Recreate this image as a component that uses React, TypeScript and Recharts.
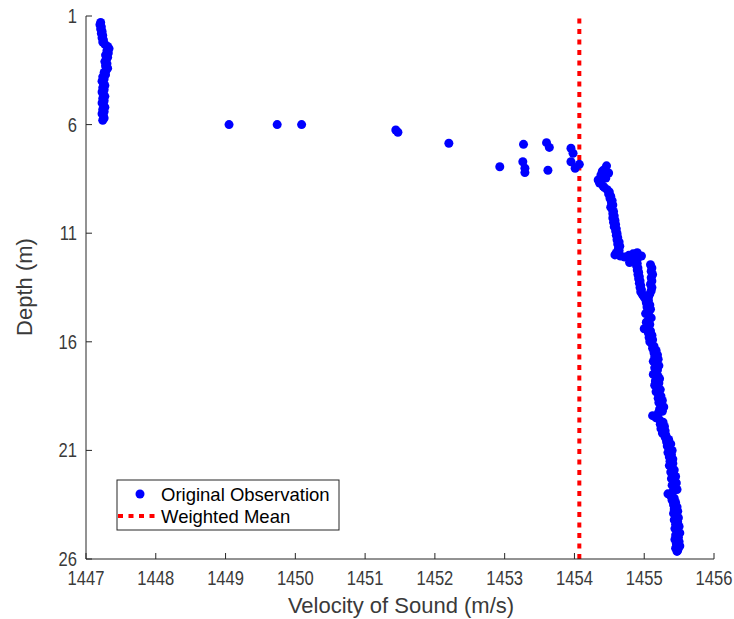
import React from 'react';
import { ScatterChart, Scatter, XAxis, YAxis, ReferenceLine } from 'recharts';

const FONT = '"Liberation Sans", Arial, Helvetica, sans-serif';
const AXIS = '#262626';
const TEXT = '#3a3a3a';

const xTicks = [1447, 1448, 1449, 1450, 1451, 1452, 1453, 1454, 1455, 1456];
const yTicks = [1, 6, 11, 16, 21, 26];
const xLabel = 'Velocity of Sound (m/s)';
const yLabel = 'Depth (m)';
const legendLabels = ['Original Observation', 'Weighted Mean'];

const weightedMean = 1454.07;

// surface layer (m, m/s)
const upperDepth = [1.3, 1.4, 1.5, 1.6, 1.7, 1.8, 1.9, 2.0, 2.1, 2.2, 2.3, 2.4, 2.5, 2.6, 2.7, 2.8, 2.9, 3.0, 3.1, 3.2, 3.3, 3.4, 3.5, 3.6, 3.7, 3.8, 3.9, 4.0, 4.1, 4.2, 4.3, 4.4, 4.5, 4.6, 4.7, 4.8, 4.9, 5.0, 5.1, 5.2, 5.3, 5.4, 5.5, 5.6, 5.7, 5.8];
const upperVelocity = [1447.21, 1447.2, 1447.22, 1447.21, 1447.23, 1447.22, 1447.24, 1447.23, 1447.25, 1447.24, 1447.27, 1447.31, 1447.33, 1447.3, 1447.32, 1447.28, 1447.31, 1447.29, 1447.27, 1447.3, 1447.28, 1447.31, 1447.29, 1447.26, 1447.28, 1447.24, 1447.26, 1447.23, 1447.25, 1447.27, 1447.24, 1447.26, 1447.23, 1447.25, 1447.27, 1447.24, 1447.26, 1447.23, 1447.25, 1447.27, 1447.24, 1447.26, 1447.23, 1447.25, 1447.26, 1447.24];

// scattered transition points
const transitionDepth = [6.0, 6.0, 6.0, 6.25, 6.35, 6.86, 6.91, 6.83, 7.05, 7.09, 7.32, 7.94, 7.71, 8.01, 8.21, 8.1, 7.71, 8.01, 7.83];
const transitionVelocity = [1449.05, 1449.74, 1450.09, 1451.44, 1451.47, 1452.2, 1453.27, 1453.6, 1453.64, 1453.95, 1453.98, 1452.93, 1453.26, 1453.29, 1453.29, 1453.62, 1453.95, 1454.01, 1454.07];

// thermocline and deeper layer
const lowerDepth = [
  7.9, 8.09, 8.32, 8.55, 8.69, 8.83, 8.46, 8.23, 8.15, 8.4,
  8.9, 9.0, 9.1, 9.2, 9.3, 9.4, 9.5, 9.6, 9.7, 9.8, 9.9, 10.0, 10.1, 10.2, 10.3, 10.4, 10.5, 10.6, 10.7, 10.8, 10.9, 11.0, 11.1, 11.2, 11.3, 11.4, 11.5, 11.6, 11.7, 11.8, 11.9, 12.0,
  12.05, 12.1, 12.02, 11.95, 11.9, 12.05, 12.2, 12.35,
  12.2, 12.3, 12.4, 12.5, 12.6, 12.7, 12.8, 12.9, 13.0, 13.1, 13.2, 13.3, 13.4, 13.5, 13.6, 13.7, 13.8, 13.9,
  12.45, 12.6, 12.75, 12.9, 13.05, 13.2, 13.35, 13.5, 13.65, 13.8, 13.95,
  14.0, 14.1, 14.2, 14.3, 14.4, 14.5, 14.6, 14.7, 14.8, 14.9, 15.0, 15.1, 15.2, 15.3, 15.4, 15.5, 15.6, 15.7, 15.8, 15.9, 16.0, 16.1, 16.2,
  16.3, 16.4, 16.5, 16.6, 16.7, 16.8, 16.9, 17.0, 17.1, 17.2, 17.3, 17.4, 17.5, 17.6, 17.7, 17.8, 17.9, 18.0, 18.1, 18.2, 18.3, 18.4, 18.5,
  18.6, 18.7, 18.8, 18.9, 19.0, 19.1, 19.2, 19.3, 19.4, 19.5, 19.6, 19.7, 19.8, 19.9, 20.0, 20.1, 20.2, 20.3,
  20.4, 20.5, 20.6, 20.7, 20.8, 20.9, 21.0, 21.1, 21.2, 21.3, 21.4,
  21.5, 21.6, 21.7, 21.8, 21.9, 22.0, 22.1, 22.2, 22.3, 22.4, 22.5, 22.6, 22.7, 22.8, 22.9, 23.0, 23.1, 23.2, 23.3, 23.4, 23.5, 23.6, 23.7, 23.8,
  23.9, 24.0, 24.1, 24.2, 24.3, 24.4, 24.5, 24.6, 24.7, 24.8, 24.9, 25.0, 25.1, 25.2, 25.3, 25.4, 25.5, 25.6, 25.65,
];
const lowerVelocity = [
  1454.46, 1454.42, 1454.38, 1454.34, 1454.36, 1454.41, 1454.45, 1454.49, 1454.4, 1454.44,
  1454.43, 1454.47, 1454.5, 1454.49, 1454.52, 1454.51, 1454.54, 1454.53, 1454.55, 1454.52, 1454.54, 1454.56, 1454.55, 1454.57, 1454.55, 1454.58, 1454.56, 1454.59, 1454.57, 1454.6, 1454.59, 1454.61, 1454.6, 1454.62, 1454.61, 1454.64, 1454.62, 1454.65, 1454.63, 1454.64, 1454.6, 1454.58,
  1454.66, 1454.72, 1454.78, 1454.84, 1454.9, 1454.96, 1454.8, 1454.79,
  1454.9, 1454.88, 1454.9, 1454.89, 1454.91, 1454.9, 1454.92, 1454.91, 1454.93, 1454.92, 1454.94, 1454.93, 1454.95, 1454.94, 1454.96, 1454.95, 1454.97, 1454.99,
  1455.09, 1455.11, 1455.1, 1455.12, 1455.1, 1455.11, 1455.09, 1455.11, 1455.1, 1455.08, 1455.06,
  1455.01, 1455.06, 1455.03, 1455.08, 1455.04, 1455.09, 1455.05, 1455.02, 1455.07, 1455.1, 1455.06, 1455.03, 1455.08, 1455.05, 1455.0, 1455.09, 1455.06, 1455.11, 1455.07, 1455.12, 1455.08, 1455.11, 1455.14,
  1455.12, 1455.17, 1455.14, 1455.19, 1455.15, 1455.2, 1455.13, 1455.18, 1455.21, 1455.15, 1455.19, 1455.16, 1455.13, 1455.2, 1455.22, 1455.16, 1455.21, 1455.15, 1455.19, 1455.23, 1455.17, 1455.21, 1455.24,
  1455.2, 1455.26, 1455.21, 1455.25, 1455.28, 1455.22, 1455.26, 1455.2, 1455.12, 1455.17, 1455.22, 1455.27, 1455.23, 1455.29, 1455.24, 1455.3, 1455.26, 1455.31,
  1455.3, 1455.35, 1455.32, 1455.38, 1455.33, 1455.36, 1455.4, 1455.34, 1455.39, 1455.36, 1455.41,
  1455.37, 1455.41, 1455.36, 1455.4, 1455.43, 1455.38, 1455.42, 1455.45, 1455.39, 1455.43, 1455.46, 1455.4, 1455.44, 1455.47, 1455.41, 1455.34, 1455.38, 1455.43, 1455.4, 1455.45, 1455.42, 1455.47, 1455.43, 1455.48,
  1455.42, 1455.46, 1455.49, 1455.43, 1455.48, 1455.45, 1455.5, 1455.44, 1455.47, 1455.51, 1455.45, 1455.49, 1455.44, 1455.5, 1455.46, 1455.51, 1455.45, 1455.48, 1455.47,
];

const zip = (d: number[], v: number[]) => d.map((depth, i) => ({ depth, velocity: v[i] }));
const observations = [
  ...zip(upperDepth, upperVelocity),
  ...zip(transitionDepth, transitionVelocity),
  ...zip(lowerDepth, lowerVelocity),
];

const TICK_LEN = 6;
const TICK_FS = 19.5;
const TICK_SX = 0.85;

const BottomTick = (p: any) => (
  <g>
    <line x1={p.x} x2={p.x} y1={p.y} y2={p.y - TICK_LEN} stroke={AXIS} strokeWidth={1} />
    <text transform={`translate(${p.x} ${p.y + 25.5}) scale(${TICK_SX} 1)`} x={0} y={0} textAnchor="middle" fontFamily={FONT} fontSize={TICK_FS} fill={TEXT}>
      {p.payload.value}
    </text>
  </g>
);
const TopTick = (p: any) => (
  <line x1={p.x} x2={p.x} y1={p.y} y2={p.y + TICK_LEN} stroke={AXIS} strokeWidth={1} />
);
const LeftTick = (p: any) => (
  <g>
    <line x1={p.x} x2={p.x + TICK_LEN} y1={p.y} y2={p.y} stroke={AXIS} strokeWidth={1} />
    <text transform={`translate(${p.x - 9} ${p.y + 7}) scale(${TICK_SX} 1)`} x={0} y={0} textAnchor="end" fontFamily={FONT} fontSize={TICK_FS} fill={TEXT}>
      {p.payload.value}
    </text>
  </g>
);
const RightTick = (p: any) => (
  <line x1={p.x} x2={p.x - TICK_LEN} y1={p.y} y2={p.y} stroke={AXIS} strokeWidth={1} />
);

const Dot = (p: any) => <circle cx={p.cx} cy={p.cy} r={4.5} fill="#0000ff" />;

export default function App() {
  return (
    <div style={{ position: 'absolute', left: 0, top: 0, background: '#fff' }}>
      <ScatterChart width={734} height={619} margin={{ top: 16, right: 20, bottom: 0, left: 0 }}>
        <XAxis
          xAxisId="b"
          dataKey="velocity"
          type="number"
          domain={[1447, 1456]}
          ticks={xTicks}
          interval={0}
          height={60}
          tickSize={0}
          tickMargin={0}
          tickLine={false}
          axisLine={{ stroke: AXIS, strokeWidth: 1 }}
          tick={<BottomTick />}
          allowDataOverflow
        />
        <XAxis
          xAxisId="t"
          orientation="top"
          dataKey="velocity"
          type="number"
          domain={[1447, 1456]}
          ticks={xTicks}
          interval={0}
          height={0}
          tickSize={0}
          tickMargin={0}
          tickLine={false}
          axisLine={{ stroke: AXIS, strokeWidth: 1 }}
          tick={<TopTick />}
          allowDataOverflow
        />
        <YAxis
          yAxisId="l"
          dataKey="depth"
          type="number"
          domain={[1, 26]}
          reversed
          ticks={yTicks}
          interval={0}
          width={86}
          tickSize={0}
          tickMargin={0}
          tickLine={false}
          axisLine={{ stroke: AXIS, strokeWidth: 1 }}
          tick={<LeftTick />}
          allowDataOverflow
        />
        <YAxis
          yAxisId="r"
          orientation="right"
          dataKey="depth"
          type="number"
          domain={[1, 26]}
          reversed
          ticks={yTicks}
          interval={0}
          width={0}
          tickSize={0}
          tickMargin={0}
          tickLine={false}
          axisLine={{ stroke: AXIS, strokeWidth: 1 }}
          tick={<RightTick />}
          allowDataOverflow
        />
        <Scatter
          xAxisId="b"
          yAxisId="l"
          data={observations}
          dataKey="depth"
          shape={<Dot />}
          isAnimationActive={false}
        />
        <Scatter
          xAxisId="t"
          yAxisId="r"
          data={observations}
          dataKey="depth"
          shape={() => null}
          isAnimationActive={false}
        />
        <ReferenceLine
          xAxisId="b"
          yAxisId="l"
          x={weightedMean}
          stroke="#ff0000"
          strokeWidth={4}
          strokeDasharray="5 5.5"
        />
      </ScatterChart>
      <svg width={734} height={619} style={{ position: 'absolute', left: 0, top: 0, pointerEvents: 'none' }}>
        <text x={401} y={613} textAnchor="middle" fontFamily={FONT} fontSize={22} fill={TEXT}>
          {xLabel}
        </text>
        <text transform="translate(32,287) rotate(-90)" x={0} y={0} textAnchor="middle" fontFamily={FONT} fontSize={22} fill={TEXT}>
          {yLabel}
        </text>
        <rect x={117} y={480} width={222} height={50} fill="#fff" stroke={AXIS} strokeWidth={1} />
        <circle cx={140} cy={494} r={4.5} fill="#0000ff" />
        <text x={161} y={500.5} fontFamily={FONT} fontSize={18.5} fill="#000">{legendLabels[0]}</text>
        <line x1={118} x2={156} y1={516} y2={516} stroke="#ff0000" strokeWidth={4} strokeDasharray="5 5.5" />
        <text x={161} y={522.5} fontFamily={FONT} fontSize={18.5} fill="#000">{legendLabels[1]}</text>
      </svg>
    </div>
  );
}
